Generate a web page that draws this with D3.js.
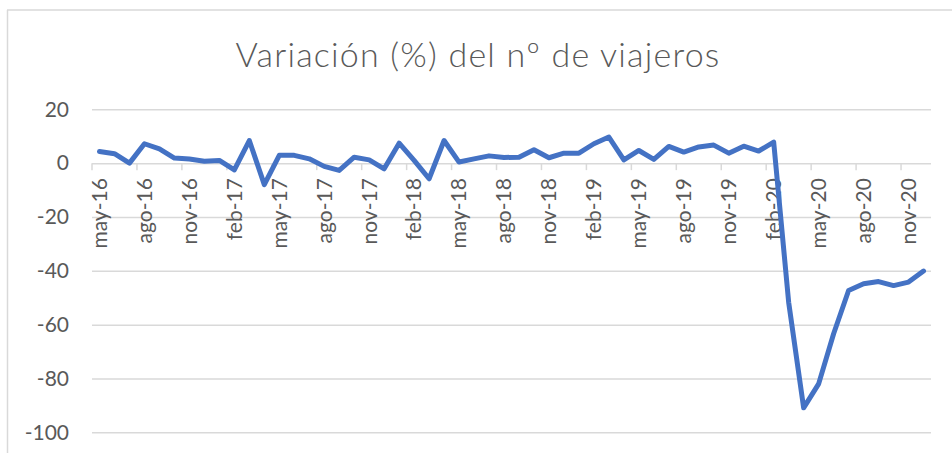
<!DOCTYPE html>
<html>
<meta charset="utf-8" />
<style>
  body { margin: 0; background: #fff; }
  text { font-family: Lato, "Open Sans", sans-serif; fill: #595959; }
  .grid line { stroke: #d9d9d9; stroke-width: 1.5; }
  .xaxis line, .xaxis path { stroke: #d9d9d9; stroke-width: 1.5; }
</style>
<body>
<script src="https://d3js.org/d3.v7.min.js"></script>
<script>
  let width = 952,
    height = 453;

  // months from may-16 to dic-20
  let months = [
    "may-16", "jun-16", "jul-16", "ago-16", "sep-16", "oct-16", "nov-16", "dic-16",
    "ene-17", "feb-17", "mar-17", "abr-17", "may-17", "jun-17", "jul-17", "ago-17",
    "sep-17", "oct-17", "nov-17", "dic-17", "ene-18", "feb-18", "mar-18", "abr-18",
    "may-18", "jun-18", "jul-18", "ago-18", "sep-18", "oct-18", "nov-18", "dic-18",
    "ene-19", "feb-19", "mar-19", "abr-19", "may-19", "jun-19", "jul-19", "ago-19",
    "sep-19", "oct-19", "nov-19", "dic-19", "ene-20", "feb-20", "mar-20", "abr-20",
    "may-20", "jun-20", "jul-20", "ago-20", "sep-20", "oct-20", "nov-20", "dic-20"
  ];

  let variacion = [
    4.3, 3.5, 0.0, 7.2, 5.3, 1.9, 1.5, 0.7,
    1.0, -2.5, 8.4, -8.0, 2.9, 2.9, 1.6, -1.2,
    -2.7, 2.2, 1.2, -2.1, 7.4, 1.0, -5.8, 8.4,
    0.4, 1.6, 2.7, 2.1, 2.2, 5.0, 2.0, 3.7,
    3.7, 7.2, 9.7, 1.2, 4.7, 1.4, 6.2, 4.1,
    6.0, 6.7, 3.7, 6.3, 4.5, 7.8, -51.7, -90.9,
    -82.0, -63.4, -47.3, -44.8, -44.0, -45.5, -44.2, -40.1
  ];

  let yTicks = [20, 0, -20, -40, -60, -80, -100];
  let title = "Variación (%) del nº de viajeros";

  let svg = d3
    .select("body")
    .append("svg")
    .attr("width", width)
    .attr("height", height);

  // chart frame (only top and left edges are in view)
  svg.append("line")
    .attr("x1", 7).attr("x2", width).attr("y1", 10).attr("y2", 10)
    .attr("stroke", "#d9d9d9").attr("stroke-width", 1.5);
  svg.append("line")
    .attr("x1", 7.5).attr("x2", 7.5).attr("y1", 10).attr("y2", height)
    .attr("stroke", "#d9d9d9").attr("stroke-width", 1.5);

  let x = d3.scaleBand().domain(months).range([92, 931]);
  let y = d3.scaleLinear().domain([-100, 20]).range([432.3, 109.3]);

  // horizontal gridlines + y labels (plain hyphen for negatives)
  let grid = svg
    .append("g")
    .attr("class", "grid")
    .attr("transform", "translate(92,0)")
    .call(
      d3.axisLeft(y)
        .tickValues(yTicks)
        .tickFormat((d) => String(d))
        .tickSize(-(931 - 92))
        .tickPadding(23)
    );
  grid.select(".domain").remove();
  grid.selectAll("text").style("font-size", "21px").attr("fill", "#595959");

  // category axis sitting on the 0 line
  let shown = months.filter((d, i) => i % 3 == 0);
  let xAxis = svg
    .append("g")
    .attr("class", "xaxis")
    .attr("transform", "translate(0," + y(0) + ")")
    .call(d3.axisBottom(x).tickValues(shown).tickSize(7).tickSizeOuter(0));
  xAxis.select(".domain").remove();
  xAxis.selectAll(".tick line").attr("transform", "translate(" + -x.step() / 2 + ",0)");
  xAxis
    .selectAll("text")
    .style("font-size", "21px")
    .attr("fill", "#595959")
    .attr("text-anchor", "end")
    .attr("transform", "rotate(-90)")
    .attr("x", -15)
    .attr("y", 0)
    .attr("dy", "0.35em");

  // series line
  let line = d3
    .line()
    .x((d, i) => x(months[i]) + x.bandwidth() / 2)
    .y((d) => y(d));

  svg
    .append("path")
    .datum(variacion)
    .attr("fill", "none")
    .attr("stroke", "#4472c4")
    .attr("stroke-width", 5)
    .attr("stroke-linejoin", "round")
    .attr("stroke-linecap", "round")
    .attr("d", line);

  svg
    .append("text")
    .attr("x", 478)
    .attr("y", 67)
    .attr("text-anchor", "middle")
    .style("font-size", "34px")
    .style("font-weight", 300)
    .style("letter-spacing", "1.2px")
    .text(title);
</script>
</body>
</html>
